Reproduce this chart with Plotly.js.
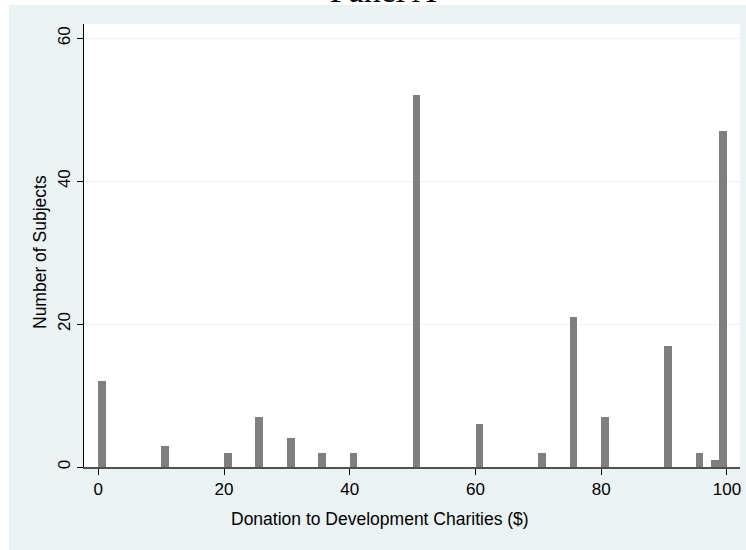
<!DOCTYPE html>
<html>
<head>
<meta charset="utf-8">
<script src="https://cdn.plot.ly/plotly-3.0.1.min.js"></script>
<style>html,body{margin:0;padding:0;background:#fff;}</style>
</head>
<body>
<div id="chart" style="width:746px;height:550px;"></div>
<script>
// Donation amounts ($) and number of subjects at each amount
const donationValues = [0, 10, 20, 25, 30, 35, 40, 50, 60, 70, 75, 80, 90, 95, 98, 100];
const subjectCounts = [12, 3, 2, 7, 4, 2, 2, 52, 6, 2, 21, 7, 17, 2, 1, 47];
const xTickValues = [0, 20, 40, 60, 80, 100];
const yTickValues = [0, 20, 40, 60];
const chartTitle = "Panel A";
const xTitle = "Donation to Development Charities ($)";
const yTitle = "Number of Subjects";

// histogram bins: 80 bins of width 1.25 over [0,100]
const binWidth = 1.25;
const nBins = 80;
const binStarts = donationValues.map(v => Math.min(Math.floor(v / binWidth), nBins - 1) * binWidth);

const W = 746, H = 550;
const L = 84, R = 6, T = 24, B = 83;
const pw = W - L - R, ph = H - T - B;
const bg = '#EAF2F3';

const trace = {
  type: 'bar',
  x: binStarts,
  y: subjectCounts,
  offset: 0,
  width: binWidth * 0.97,
  marker: {color: '#7f7f7f', line: {width: 0}},
  hoverinfo: 'x+y'
};

const layout = {
  width: W, height: H,
  margin: {l: L, r: R, t: T, b: B, pad: 0},
  paper_bgcolor: bg,
  plot_bgcolor: '#ffffff',
  showlegend: false,
  bargap: 0,
  font: {family: '"Liberation Sans", Arial, sans-serif', color: '#000'},
  title: {
    text: chartTitle,
    font: {family: '"Liberation Serif", "DejaVu Serif", serif', size: 34, color: '#000'},
    x: 383 / W, xanchor: 'center', xref: 'container',
    y: 1 - 2 / H, yanchor: 'bottom', yref: 'container'
  },
  xaxis: {
    range: [-2.27, 102.07],
    tickvals: xTickValues,
    ticktext: xTickValues.map(String),
    ticks: 'outside', ticklen: 6, tickcolor: '#000', tickwidth: 1,
    tickfont: {size: 17, color: '#000'},
    showgrid: false, zeroline: false,
    showline: true, linecolor: '#505050', linewidth: 2
  },
  yaxis: {
    range: [0, 62],
    tickvals: yTickValues,
    ticktext: yTickValues.map(String),
    ticks: 'outside', ticklen: 6, tickcolor: '#000', tickwidth: 1,
    tickangle: -90,
    tickfont: {size: 17, color: '#000'},
    showgrid: true, gridcolor: bg, gridwidth: 1,
    zeroline: false,
    showline: true, linecolor: '#000', linewidth: 1
  },
  annotations: [
    {text: xTitle, xref: 'paper', yref: 'paper', showarrow: false,
     x: (380 - L) / pw, y: (H - B - 519) / ph, xanchor: 'center', yanchor: 'middle',
     font: {size: 17.5, color: '#000'}},
    {text: yTitle, xref: 'paper', yref: 'paper', showarrow: false, textangle: -90,
     x: (40 - L) / pw, y: (H - B - 252) / ph, xanchor: 'center', yanchor: 'middle',
     font: {size: 17.5, color: '#000'}}
  ],
  shapes: [
    // white strips at top and left (outside the graph region)
    {type: 'rect', xref: 'paper', yref: 'paper', layer: 'below',
     x0: -L / pw - 0.01, x1: (W - L) / pw + 0.01,
     y0: (H - B - 5) / ph, y1: (H - B) / ph + 0.01,
     fillcolor: '#ffffff', line: {width: 0}},
    {type: 'rect', xref: 'paper', yref: 'paper', layer: 'below',
     x0: -L / pw - 0.01, x1: (9 - L) / pw,
     y0: -B / ph - 0.01, y1: (H - B) / ph + 0.01,
     fillcolor: '#ffffff', line: {width: 0}}
  ]
};

Plotly.newPlot('chart', [trace], layout, {displayModeBar: false, staticPlot: true});
</script>
</body>
</html>
